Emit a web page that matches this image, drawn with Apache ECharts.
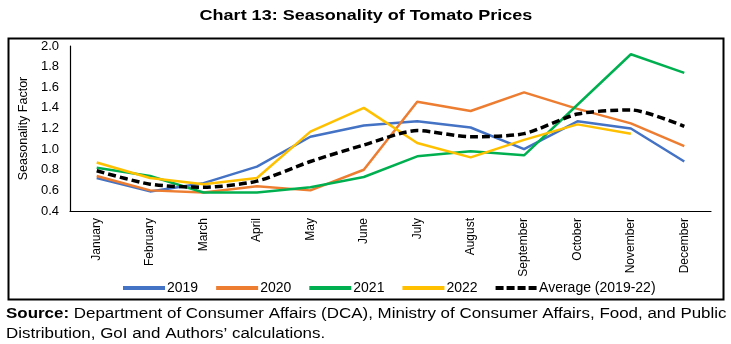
<!DOCTYPE html>
<html>
<head>
<meta charset="utf-8">
<script src="https://cdn.jsdelivr.net/npm/echarts@6/dist/echarts.min.js"></script>
<style>
  html, body { margin: 0; padding: 0; background: #fff; }
  #chart { width: 731px; height: 344px; }
</style>
</head>
<body>
<div id="chart"></div>
<script>
// Months of the year
const months = ['January', 'February', 'March', 'April', 'May', 'June',
  'July', 'August', 'September', 'October', 'November', 'December'];

// Seasonality factors by year
const s2019 = [0.72, 0.59, 0.67, 0.83, 1.12, 1.23, 1.27, 1.21, 1.00, 1.27, 1.20, 0.88];
const s2020 = [0.74, 0.60, 0.58, 0.64, 0.60, 0.80, 1.46, 1.37, 1.55, 1.39, 1.25, 1.03];
const s2021 = [0.82, 0.74, 0.58, 0.58, 0.63, 0.73, 0.93, 0.98, 0.94, 1.43, 1.92, 1.74];
const s2022 = [0.87, 0.72, 0.66, 0.72, 1.17, 1.40, 1.06, 0.92, 1.09, 1.24, 1.15, null];
const sAvg  = [0.79, 0.66, 0.63, 0.69, 0.88, 1.04, 1.18, 1.12, 1.15, 1.34, 1.38, 1.22];

// Value axis ticks
const yMin = 0.4, yMax = 2.0, yStep = 0.2;

const FONT = 'Liberation Sans, Arial, sans-serif';
const DASH_ICON = 'path://M0,0h8v4h-8zM11,0h8v4h-8zM22,0h8v4h-8zM33,0h8v4h-8z';

const chart = echarts.init(document.getElementById('chart'), null, { renderer: 'canvas' });

function yearSeries(name, data, color) {
  return {
    name, type: 'line', data,
    symbol: 'none',
    lineStyle: { color, width: 2.5 },
    itemStyle: { color },
    connectNulls: false
  };
}

chart.setOption({
  animation: false,
  backgroundColor: '#fff',
  grid: { left: 70, right: 20, top: 46, bottom: 133, containLabel: false },
  legend: {
    top: 276,
    left: 118,
    itemWidth: 42, itemHeight: 4, itemGap: 18,
    textStyle: { fontFamily: FONT, fontSize: 14, color: '#000', padding: [0, 0, 0, -3] },
    data: [
      { name: '2019', icon: 'rect' },
      { name: '2020', icon: 'rect' },
      { name: '2021', icon: 'rect' },
      { name: '2022', icon: 'rect' },
      { name: 'Average (2019-22)', icon: DASH_ICON }
    ]
  },
  xAxis: {
    type: 'category', data: months, boundaryGap: true,
    axisLine: { lineStyle: { color: '#000', width: 1.2 } },
    axisTick: { show: false },
    axisLabel: { rotate: 90, margin: 7, fontFamily: FONT, fontSize: 12, color: '#000', interval: 0 }
  },
  yAxis: {
    type: 'value', min: yMin, max: yMax, interval: yStep,
    name: 'Seasonality Factor', nameLocation: 'middle', nameGap: 39,
    nameTextStyle: { fontFamily: FONT, fontSize: 12.5, color: '#000' },
    axisLine: { show: true, lineStyle: { color: '#000', width: 1.2 } },
    axisTick: { show: false },
    splitLine: { show: false },
    axisLabel: { fontFamily: FONT, fontSize: 13, color: '#000', margin: 11, formatter: v => v.toFixed(1) }
  },
  series: [
    yearSeries('2019', s2019, '#4472C4'),
    yearSeries('2020', s2020, '#ED7D31'),
    yearSeries('2021', s2021, '#00B050'),
    yearSeries('2022', s2022, '#FFC000'),
    {
      name: 'Average (2019-22)', type: 'line', data: sAvg,
      symbol: 'none', smooth: 0.25,
      lineStyle: { color: '#000', width: 3.5, type: [8, 4] },
      itemStyle: { color: '#000' }
    }
  ],
  graphic: [
    {
      type: 'text', x: 366, y: 15.5, scaleX: 1.2, silent: true,
      style: {
        x: 0, y: 0, align: 'center', verticalAlign: 'middle',
        text: 'Chart 13: Seasonality of Tomato Prices',
        font: 'bold 15px ' + FONT, fill: '#000'
      }
    },
    {
      type: 'rect', left: 6, top: 36, silent: true,
      shape: { width: 715, height: 261 },
      style: { fill: 'none', stroke: '#000', lineWidth: 2 }
    },
    {
      type: 'text', x: 6, y: 304, scaleX: 1.21, silent: true,
      style: {
        x: 0, y: 0,
        rich: {
          b: { fontFamily: FONT, fontSize: 14, fontWeight: 'bold', fill: '#000', lineHeight: 20 },
          n: { fontFamily: FONT, fontSize: 14, fill: '#000', lineHeight: 20 }
        },
        text: '{b|Source:}{n| Department of Consumer Affairs (DCA), Ministry of Consumer Affairs, Food, and Public}\n{n|Distribution, GoI and Authors\u2019 calculations.}'
      }
    }
  ]
});
</script>
</body>
</html>
